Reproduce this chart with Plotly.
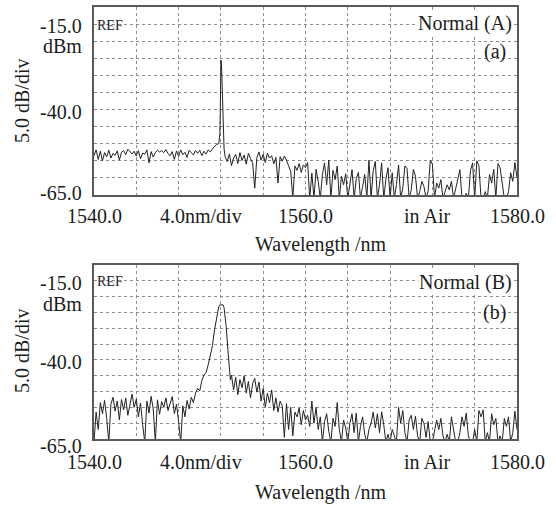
import numpy as np
import plotly.graph_objects as go

W, H = 556, 505
STEP = 0.2

# ---------------- Panel (a) data (dBm) ----------------
a_left_start = 1540.0
a_left_y = [-53.5, -51.8, -54.6, -52.2, -55.0, -52.6, -53.8, -51.9, -54.2, -52.8,
            -53.4, -52.1, -54.8, -52.5, -52.0, -53.2, -51.6, -52.4, -53.0, -52.2,
            -53.6, -52.0, -54.4, -52.7, -53.1, -51.8, -55.6, -52.3, -53.9, -52.6,
            -51.9, -52.4, -52.0, -52.6, -51.7, -52.9, -53.5, -52.3, -54.6, -52.1,
            -53.7, -51.8, -53.2, -52.5, -54.0, -51.9, -52.7, -53.3, -52.0, -52.8,
            -51.9, -53.5, -52.2, -53.0, -51.8, -52.4, -51.5, -50.9, -50.2]
a_peak_x = [1551.8, 1551.9, 1551.95, 1552.0, 1552.05, 1552.1, 1552.15, 1552.2, 1552.25, 1552.3]
a_peak_y = [-50.0, -47.0, -39.0, -25.5, -26.5, -31.0, -36.0, -42.0, -45.0, -51.5]
a_right_start = 1552.4
a_right_y = [-53.8, -55.2, -53.0, -56.4, -54.2, -53.1, -55.8, -52.6, -54.9, -53.3,
             -56.0, -52.8, -54.4, -55.6, -63.0, -54.0, -52.4, -54.8, -53.1, -55.5,
             -52.8, -54.2, -53.5, -55.9, -54.0, -61.5, -53.8, -55.1, -53.6, -54.8,
             -56.5, -58.0, -66.0, -56.5, -57.8, -55.8, -58.4, -56.2, -57.0, -55.5,
             -66.0, -58.6, -66.0, -57.5, -61.0, -66.0, -59.0, -55.6, -62.0, -54.8,
             -66.0, -57.8, -60.5, -56.5, -66.0, -59.5, -62.0, -58.8, -66.0, -61.0,
             -57.6, -66.0, -60.2, -58.4, -66.0, -62.5, -59.0, -66.0, -54.8, -66.0,
             -58.0, -55.2, -66.0, -62.0, -55.6, -66.0, -60.5, -57.0, -66.0, -58.5,
             -66.0, -62.0, -56.2, -66.0, -63.0, -56.5, -57.2, -66.0, -63.5, -57.5,
             -59.5, -66.0, -64.0, -61.0, -62.5, -66.0, -63.8, -54.8, -56.0, -66.0,
             -61.5, -63.0, -60.5, -66.0, -64.0, -62.0, -63.5, -61.0, -66.0, -63.0,
             -60.0, -57.6, -66.0, -66.0, -64.5, -66.0, -57.8, -55.6, -66.0, -55.0,
             -56.5, -66.0, -66.0, -64.0, -66.0, -59.0, -61.5, -57.5, -66.0, -55.8,
             -57.0, -62.0, -66.0, -66.0, -64.0, -58.5, -61.0, -55.5, -60.0]

# ---------------- Panel (b) data (dBm) ----------------
b_left_start = 1540.0
b_left_y = [-66.0, -56.5, -62.0, -53.5, -57.0, -52.8, -58.5, -66.0, -54.0, -51.8,
            -56.2, -53.0, -59.0, -52.5, -55.8, -52.0, -57.5, -54.2, -50.8, -55.0,
            -52.4, -58.0, -53.6, -60.5, -66.0, -53.0, -56.8, -51.5, -55.5, -66.0,
            -52.6, -57.2, -53.2, -55.0, -52.0, -56.0, -53.8, -51.6, -57.0, -54.0,
            -59.5, -66.0, -54.5, -58.0, -52.8, -55.5, -51.8, -53.5]
b_peak_x = [1549.6, 1549.8, 1550.0, 1550.2, 1550.4, 1550.6, 1550.8, 1551.0, 1551.2,
            1551.4, 1551.6, 1551.8, 1551.9, 1552.2, 1552.3, 1552.5, 1552.7, 1552.9]
b_peak_y = [-50.5, -49.0, -49.8, -46.5, -44.8, -44.0, -41.5, -38.5, -35.5,
            -30.5, -26.3, -23.1, -22.6, -22.6, -23.5, -29.5, -38.4, -46.3]
b_right_start = 1553.0
b_right_y = [-44.8, -49.5, -45.5, -51.0, -46.2, -48.8, -45.0, -50.5, -46.8, -52.0,
             -47.5, -45.8, -50.2, -47.0, -53.0, -49.0, -55.0, -50.5, -53.5, -49.5,
             -56.0, -52.0, -56.5, -53.0, -54.5, -64.5, -53.8, -62.0, -55.0, -64.0,
             -56.5, -58.0, -55.2, -60.5, -56.0, -59.0, -57.5, -61.0, -53.0, -60.0,
             -55.0, -62.0, -58.0, -66.0, -59.5, -57.0, -62.5, -66.0, -58.5, -61.0,
             -53.5, -62.0, -66.0, -59.0, -61.5, -66.0, -60.0, -57.0, -63.0, -56.8,
             -66.0, -61.0, -58.0, -63.5, -66.0, -62.0, -60.0, -56.5, -61.5, -57.0,
             -63.0, -56.4, -60.5, -66.0, -63.5, -66.0, -62.0, -64.0, -66.0, -55.0,
             -60.0, -56.0, -63.0, -66.0, -59.0, -57.5, -62.0, -57.8, -64.0, -66.0,
             -58.5, -60.0, -64.5, -59.5, -66.0, -66.0, -63.0, -59.0, -62.0, -58.5,
             -64.0, -66.0, -63.5, -66.0, -58.0, -62.5, -66.0, -66.0, -63.0, -58.0,
             -61.0, -56.8, -64.0, -66.0, -66.0, -62.0, -66.0, -56.0, -58.0, -55.8,
             -66.0, -63.0, -66.0, -57.0, -60.5, -58.5, -66.0, -64.0, -66.0, -58.5,
             -61.0, -58.0, -66.0, -63.0, -56.2, -62.0]

# ---------------- Axis text ----------------
y_tick_vals = [-15, -40, -65]
y_tick_text = ["-15.0", "-40.0", "-65.0"]
x_label_pos = [1540.0, 1550.1, 1560.0, 1571.5, 1580.0]
x_label_text = ["1540.0", "4.0nm/div", "1560.0", "in Air", "1580.0"]
y_title = "5.0 dB/div"
x_title = "Wavelength /nm"
panel_modes = ["Normal (A)", "Normal (B)"]
panel_tags = ["(a)", "(b)"]


def build(start_l, left, px_, py_, start_r, right):
    xl = start_l + STEP * np.arange(len(left))
    xr = start_r + STEP * np.arange(len(right))
    return (np.concatenate([xl, np.array(px_), xr]),
            np.concatenate([np.array(left), np.array(py_), np.array(right)]))


xa, ya = build(a_left_start, a_left_y, a_peak_x, a_peak_y, a_right_start, a_right_y)
xb, yb = build(b_left_start, b_left_y, b_peak_x, b_peak_y, b_right_start, b_right_y)


def PX(x):
    return x / W


def PY(y):
    return 1 - y / H


FONT = "Liberation Serif, Times New Roman, serif"
TXT = "#1c1c1c"
fig = go.Figure()
fig.add_trace(go.Scatter(x=xa, y=ya, mode="lines", line=dict(color="#222", width=1),
                         xaxis="x", yaxis="y", showlegend=False, hoverinfo="skip"))
fig.add_trace(go.Scatter(x=xb, y=yb, mode="lines", line=dict(color="#222", width=1),
                         xaxis="x2", yaxis="y2", showlegend=False, hoverinfo="skip"))

common_x = dict(range=[1540, 1580], tick0=1540, dtick=4, showgrid=True,
                gridcolor="#8c8c8c", griddash="dot", gridwidth=1,
                showline=True, mirror=True, linecolor="#5a5a5a", linewidth=1.5,
                showticklabels=False, ticks="", zeroline=False, fixedrange=True)
common_y = dict(range=[-65, -10], tick0=-65, dtick=5, showgrid=True,
                gridcolor="#8c8c8c", griddash="dot", gridwidth=1,
                showline=True, mirror=True, linecolor="#5a5a5a", linewidth=1.5,
                showticklabels=False, ticks="", zeroline=False, fixedrange=True)

panels = [
    dict(xa="x", ya="y", top=7, bot=195, dbm=46, ytitle=101, xlab=216, xtitle=244,
         mode_y=23, tag_y=52, m65_shift=2),
    dict(xa="x2", ya="y2", top=265, bot=439, dbm=304, ytitle=351, xlab=462, xtitle=492,
         mode_y=282, tag_y=312, m65_shift=-7),
]

fig.update_layout(
    xaxis=dict(domain=[PX(94), PX(517)], anchor="y", **common_x),
    yaxis=dict(domain=[PY(panels[0]["bot"]), PY(panels[0]["top"])], anchor="x", **common_y),
    xaxis2=dict(domain=[PX(94), PX(517)], anchor="y2", **common_x),
    yaxis2=dict(domain=[PY(panels[1]["bot"]), PY(panels[1]["top"])], anchor="x2", **common_y),
)

ann = []
for i, p in enumerate(panels):
    yref = p["ya"]
    xref = p["xa"]
    for v, t in zip(y_tick_vals, y_tick_text):
        shift = p["m65_shift"] if v == -65 else -2
        ann.append(dict(x=PX(84), xref="paper", y=v, yref=yref, text=t, showarrow=False,
                        xanchor="right", yanchor="middle", yshift=shift,
                        font=dict(family=FONT, size=20, color=TXT)))
    ann.append(dict(x=PX(62), xref="paper", y=PY(p["dbm"]), yref="paper", text="dBm",
                    showarrow=False, xanchor="center", yanchor="middle",
                    font=dict(family=FONT, size=20, color=TXT)))
    ann.append(dict(x=PX(22), xref="paper", y=PY(p["ytitle"]), yref="paper", text=y_title,
                    textangle=-90, showarrow=False, xanchor="center", yanchor="middle",
                    font=dict(family=FONT, size=20, color=TXT)))
    for v, t in zip(x_label_pos, x_label_text):
        ann.append(dict(x=v, xref=xref, y=PY(p["xlab"]), yref="paper", text=t,
                        showarrow=False, xanchor="center", yanchor="middle",
                        font=dict(family=FONT, size=20, color=TXT)))
    ann.append(dict(x=PX(321), xref="paper", y=PY(p["xtitle"]), yref="paper", text=x_title,
                    showarrow=False, xanchor="center", yanchor="middle",
                    font=dict(family=FONT, size=20, color=TXT)))
    ann.append(dict(x=PX(95), xref="paper", y=-15, yref=yref, text="REF",
                    showarrow=False, xanchor="left", yanchor="middle", yshift=-1,
                    font=dict(family=FONT, size=14, color=TXT)))
    ann.append(dict(x=PX(513), xref="paper", y=PY(p["mode_y"]), yref="paper",
                    text=panel_modes[i], showarrow=False, xanchor="right", yanchor="middle",
                    bgcolor="white", borderpad=0,
                    font=dict(family=FONT, size=20, color=TXT)))
    ann.append(dict(x=PX(508), xref="paper", y=PY(p["tag_y"]), yref="paper",
                    text=panel_tags[i], showarrow=False, xanchor="right", yanchor="middle",
                    font=dict(family=FONT, size=20, color=TXT)))

fig.update_layout(annotations=ann, width=W, height=H,
                  margin=dict(l=0, r=0, t=0, b=0),
                  paper_bgcolor="white", plot_bgcolor="white", showlegend=False)

fig.write_html("out.html", config={"displayModeBar": False})
